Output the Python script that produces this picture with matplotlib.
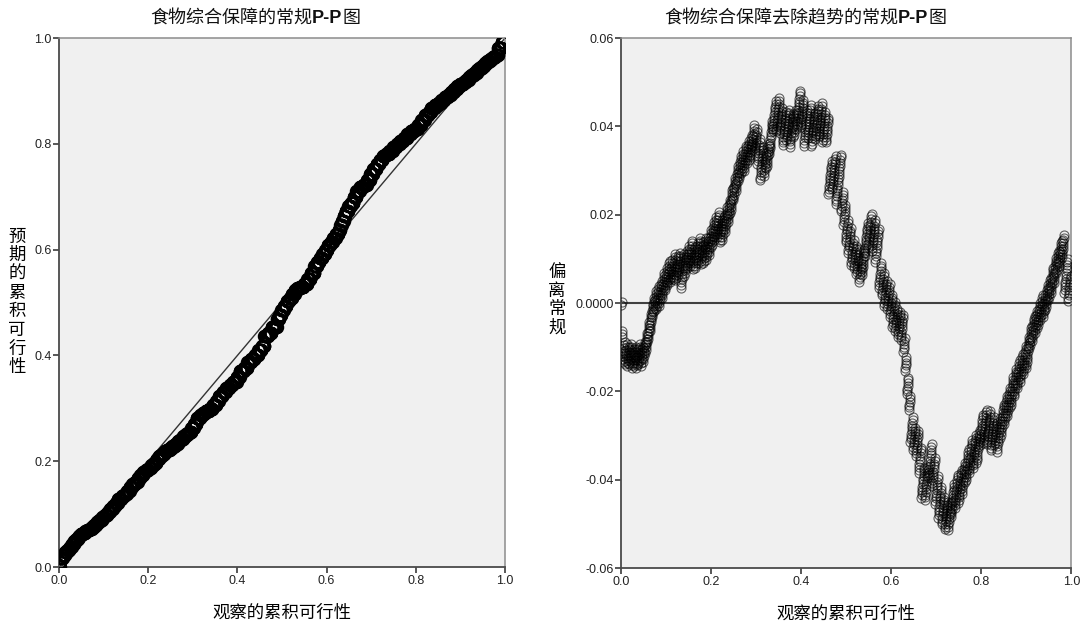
import matplotlib
matplotlib.use('Agg')
import matplotlib.pyplot as plt
import numpy as np
from matplotlib.offsetbox import TextArea, HPacker, AnchoredOffsetbox

plt.rcParams['font.family'] = ['Noto Sans CJK SC', 'DejaVu Sans']

# tie groups read off the detrended plot: observed cumulative proportion at the
# end of each group and the deviation (observed - expected) reached there
cum_obs = [0.001, 0.003, 0.008, 0.013, 0.018, 0.023, 0.028, 0.033, 0.038, 0.043,
           0.048, 0.053, 0.058, 0.063, 0.068, 0.073, 0.078, 0.084, 0.090, 0.096,
           0.102, 0.108, 0.114, 0.120, 0.126, 0.132, 0.140, 0.146, 0.152, 0.158,
           0.164, 0.170, 0.176, 0.182, 0.188, 0.194, 0.200, 0.206, 0.212, 0.218,
           0.224, 0.230, 0.236, 0.242, 0.248, 0.254, 0.260, 0.266, 0.272, 0.278,
           0.284, 0.290, 0.296, 0.302, 0.308, 0.316, 0.322, 0.328, 0.336, 0.344,
           0.352, 0.358, 0.366, 0.374, 0.382, 0.389, 0.398, 0.405, 0.414, 0.422,
           0.430, 0.438, 0.446, 0.454, 0.460, 0.468, 0.476, 0.488, 0.493, 0.498,
           0.504, 0.510, 0.516, 0.522, 0.528, 0.534, 0.540, 0.548, 0.556, 0.564,
           0.572, 0.578, 0.584, 0.590, 0.596, 0.602, 0.608, 0.614, 0.620, 0.626,
           0.630, 0.634, 0.638, 0.642, 0.648, 0.654, 0.660, 0.666, 0.674, 0.682,
           0.690, 0.697, 0.704, 0.711, 0.718, 0.725, 0.732, 0.740, 0.748, 0.756,
           0.764, 0.772, 0.780, 0.788, 0.796, 0.804, 0.812, 0.820, 0.828, 0.834,
           0.842, 0.850, 0.857, 0.864, 0.871, 0.878, 0.885, 0.892, 0.899, 0.906,
           0.912, 0.918, 0.924, 0.930, 0.936, 0.942, 0.948, 0.954, 0.960, 0.966,
           0.972, 0.978, 0.984, 0.992, 0.998]
dev_top = [0.000, -0.0065, -0.009, -0.0095, -0.010, -0.0095, -0.0105, -0.010, -0.0105, -0.0095,
           -0.010, -0.009, -0.007, -0.0045, -0.002, 0.001, 0.0025, 0.004, 0.005, 0.0065,
           0.008, 0.0095, 0.010, 0.011, 0.0105, 0.0115, 0.011, 0.0115, 0.013, 0.014,
           0.013, 0.0135, 0.0145, 0.014, 0.0145, 0.015, 0.0165, 0.018, 0.0195, 0.0205,
           0.019, 0.020, 0.0215, 0.0235, 0.026, 0.0285, 0.031, 0.033, 0.0345, 0.0355,
           0.037, 0.038, 0.040, 0.0395, 0.037, 0.035, 0.034, 0.036, 0.041, 0.046,
           0.0465, 0.044, 0.043, 0.044, 0.043, 0.044, 0.048, 0.046, 0.044, 0.045,
           0.043, 0.0445, 0.045, 0.0435, 0.042, 0.032, 0.033, 0.0335, 0.025, 0.022,
           0.019, 0.017, 0.014, 0.013, 0.012, 0.010, 0.012, 0.018, 0.020, 0.019,
           0.017, 0.009, 0.007, 0.005, 0.004, 0.002, 0.000, -0.001, -0.002, -0.003,
           -0.008, -0.012, -0.017, -0.021, -0.026, -0.028, -0.029, -0.033, -0.037, -0.037,
           -0.032, -0.035, -0.039, -0.042, -0.044, -0.045, -0.045, -0.041, -0.039, -0.038,
           -0.036, -0.033, -0.031, -0.030, -0.029, -0.025, -0.024, -0.0245, -0.026, -0.027,
           -0.026, -0.023, -0.021, -0.019, -0.017, -0.015, -0.013, -0.0115, -0.0095, -0.008,
           -0.005, -0.003, -0.0015, 0.000, 0.0015, 0.002, 0.004, 0.006, 0.008, 0.010,
           0.012, 0.014, 0.0157, 0.010, 0.006]
n_cases = 1600

pp_ticks = [0.0, 0.2, 0.4, 0.6, 0.8, 1.0]
pp_labels = ['0.0', '0.2', '0.4', '0.6', '0.8', '1.0']
dev_ticks = [-0.06, -0.04, -0.02, 0.0, 0.02, 0.04, 0.06]
dev_labels = ['-0.06', '-0.04', '-0.02', '0.0000', '0.02', '0.04', '0.06']

# build per-case points from the tie groups
cut = np.round(np.array([0.0] + cum_obs) * n_cases).astype(int)
counts = np.diff(cut)
exp_group = np.array(cum_obs) - np.array(dev_top)
observed = np.arange(1, cut[-1] + 1) / n_cases
expected = np.repeat(exp_group, counts)
deviation = observed - expected

fig = plt.figure(figsize=(10.81, 6.26), dpi=100)
ax1 = fig.add_axes([0.0546, 0.0942, 0.4126, 0.845])
ax2 = fig.add_axes([0.5745, 0.0926, 0.4166, 0.8466])

tick_font = dict(family=['Liberation Sans', 'DejaVu Sans'], size=9)


def style(ax):
    ax.set_facecolor('#f0f0f0')
    for s in ['left', 'bottom']:
        ax.spines[s].set_color('#4a4a4a')
        ax.spines[s].set_linewidth(1.3)
    for s in ['top', 'right']:
        ax.spines[s].set_color('#8c8c8c')
        ax.spines[s].set_linewidth(1.1)
    ax.tick_params(direction='out', length=4, width=1.3, color='#4a4a4a', pad=1.5)
    for lab in ax.get_xticklabels() + ax.get_yticklabels():
        lab.set_fontproperties(tick_font)
        lab.set_color('#222222')


def title(ax, xc, pre, mid, post):
    parts = [TextArea(pre, textprops=dict(fontsize=13, color='#111111')),
             TextArea(mid, textprops=dict(fontsize=13, weight='bold', color='#111111',
                                          family=['Liberation Sans', 'DejaVu Sans'])),
             TextArea(post, textprops=dict(fontsize=13, color='#111111'))]
    box = HPacker(children=parts, align='baseline', pad=0, sep=0)
    ab = AnchoredOffsetbox(loc='center', child=box, pad=0, borderpad=0, frameon=False,
                           bbox_to_anchor=(xc, 1 - 18 / 626), bbox_transform=fig.transFigure)
    fig.add_artist(ab)


# left: normal P-P plot
ax1.plot([0, 1], [0, 1], color='#333333', lw=1.0, zorder=2)
ax1.plot(observed, expected, 'o', mfc='none', mec='black', ms=8.5, mew=1.2, zorder=3)
ax1.set_xlim(0, 1)
ax1.set_ylim(0, 1)
ax1.set_xticks(pp_ticks, pp_labels)
ax1.set_yticks(pp_ticks, pp_labels)
style(ax1)
ax1.set_xlabel('观察的累积可行性', fontsize=12.5, labelpad=12)
fig.text(17 / 1081, 1 - 302 / 626, '\n'.join('预期的累积可行性'), fontsize=12.5,
         ha='center', va='center', linespacing=1.05)
title(ax1, 255 / 1081, '食物综合保障的常规', 'P-P', '图')

# right: detrended P-P plot
ax2.axhline(0, color='#404040', lw=1.5, zorder=2)
ax2.plot(observed, deviation, 'o', mfc='none', mec='black', ms=6.5, mew=0.8, alpha=0.6, zorder=3)
ax2.set_xlim(0, 1)
ax2.set_ylim(-0.06, 0.06)
ax2.set_xticks(pp_ticks, pp_labels)
ax2.set_yticks(dev_ticks, dev_labels)
style(ax2)
ax2.set_xlabel('观察的累积可行性', fontsize=12.5, labelpad=12)
fig.text(557 / 1081, 1 - 300 / 626, '\n'.join('偏离常规'), fontsize=12.5,
         ha='center', va='center', linespacing=1.05)
title(ax2, 805 / 1081, '食物综合保障去除趋势的常规', 'P-P', '图')

fig.savefig('out.png', dpi=100)
